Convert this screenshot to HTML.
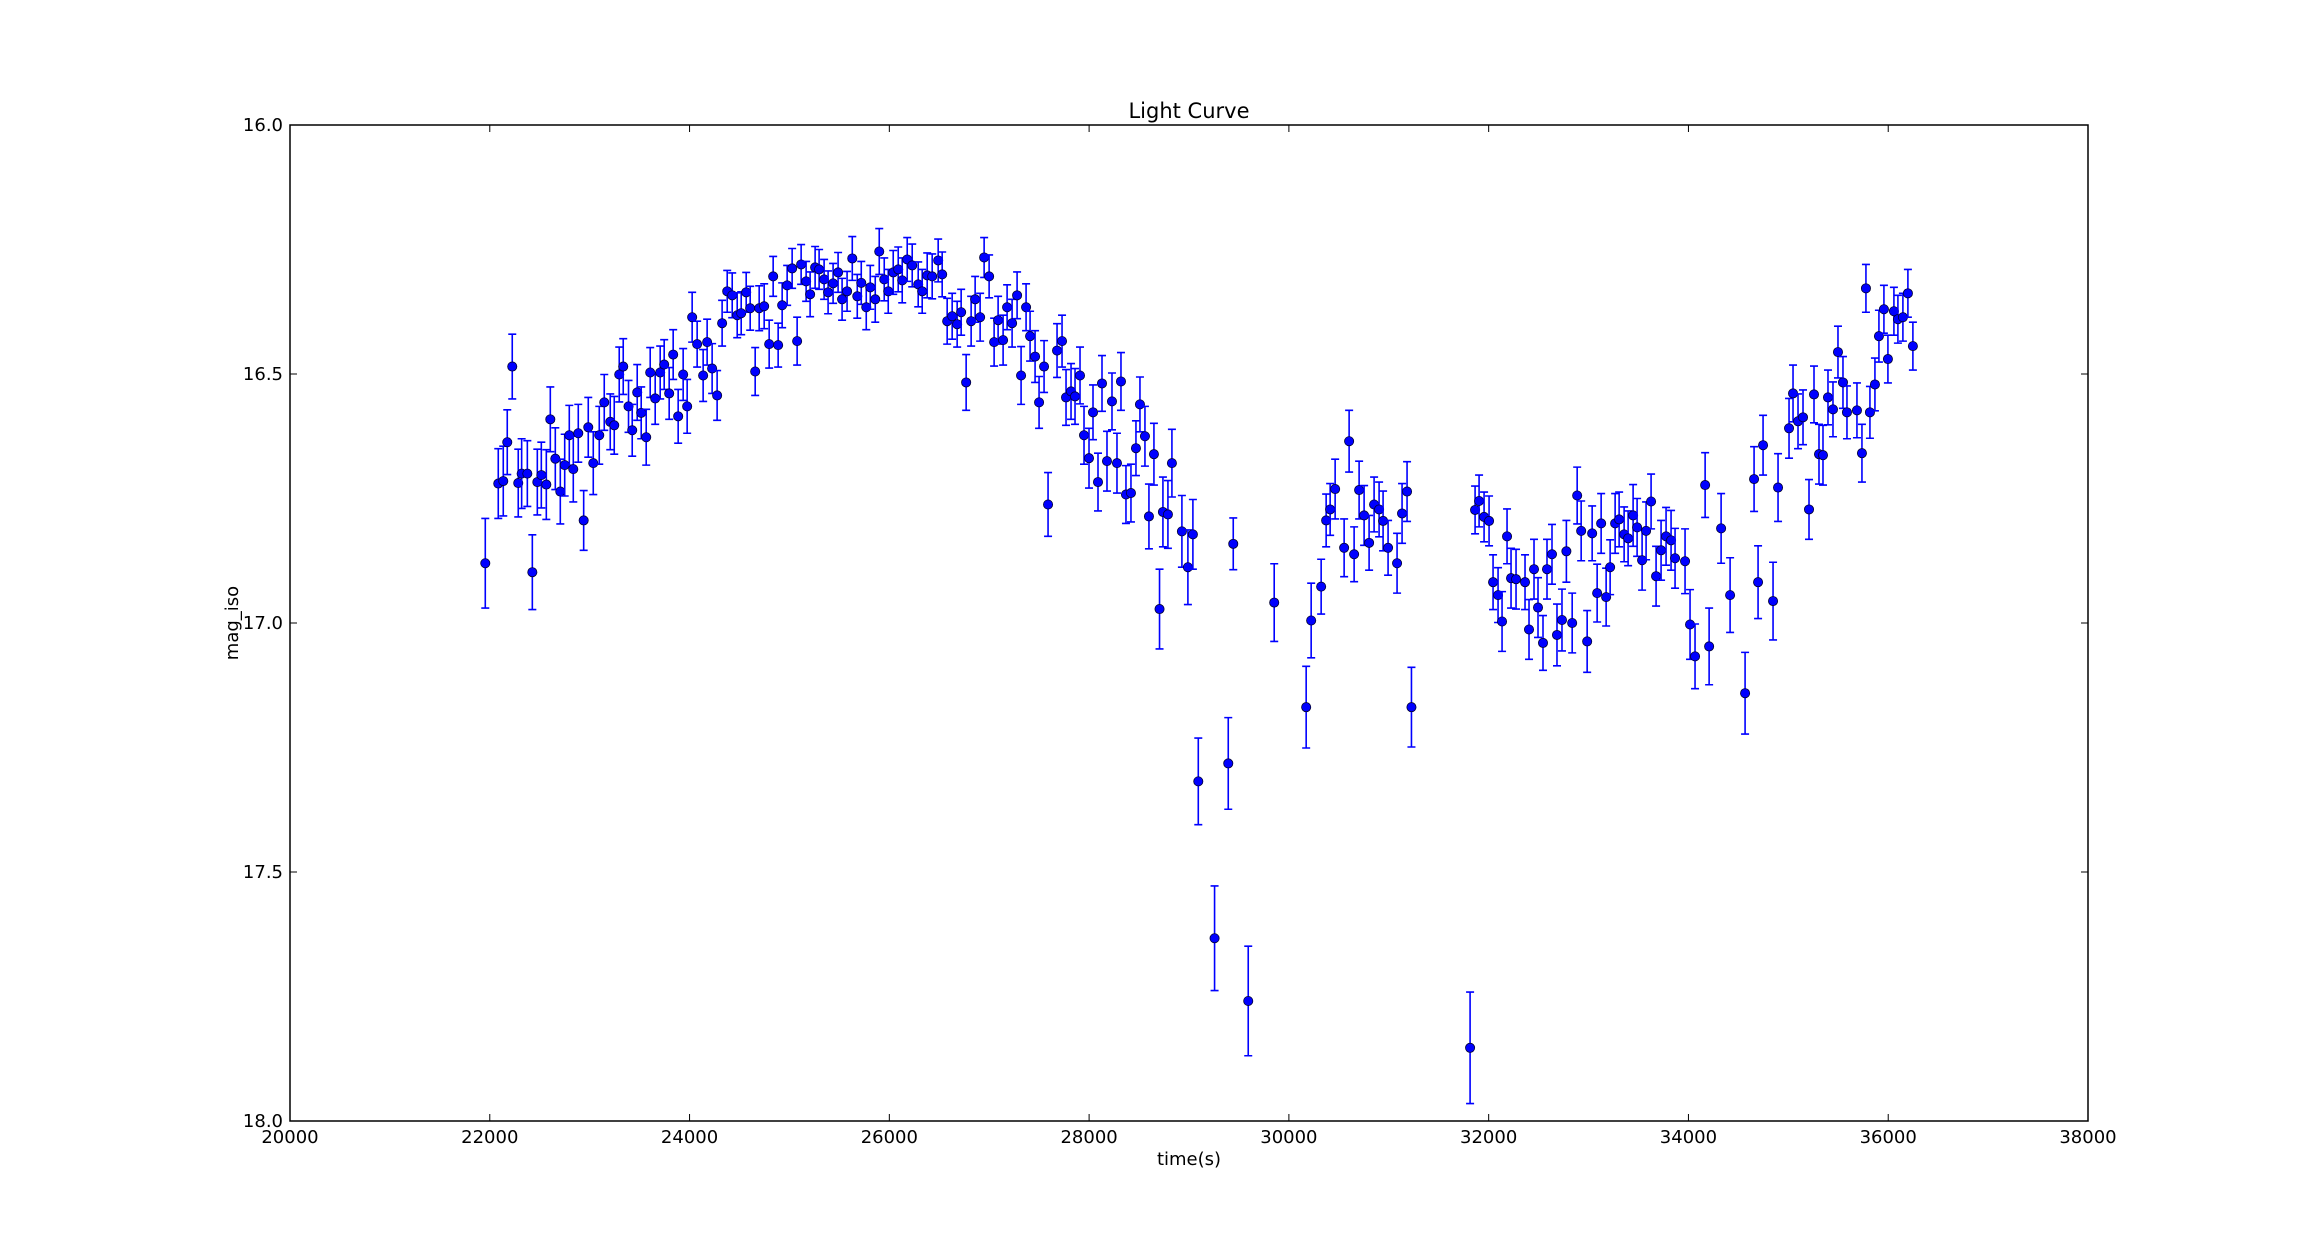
<!DOCTYPE html>
<html><head><meta charset="utf-8"><style>
html,body{margin:0;padding:0;background:#fff;}
svg{display:block;font-family:"DejaVu Sans","Liberation Sans",sans-serif;}
</style></head><body>
<svg id="chart" width="2318" height="1245" viewBox="0 0 2318 1245" xmlns="http://www.w3.org/2000/svg">
<rect x="0" y="0" width="2318" height="1245" fill="#fff"/>
<text x="1189" y="118" font-size="21" text-anchor="middle">Light Curve</text>
<text x="1189" y="1165" font-size="18" text-anchor="middle">time(s)</text>
<text x="238" y="623" font-size="18" text-anchor="middle" transform="rotate(-90 238 623)">mag_iso</text>
<g id="marks"></g>
<g id="axes"></g>
</svg>
<script>
const xTicks = [20000,22000,24000,26000,28000,30000,32000,34000,36000,38000];
const yTicks = [16.0,16.5,17.0,17.5,18.0];
const yTickLabels = ["16.0","16.5","17.0","17.5","18.0"];
const times = [21955,22085,22135,22175,22225,22285,22319,22376,22426,22476,22516,22566,22606,22656,22706,22750,22796,22836,22886,22940,22986,23036,23096,23146,23206,23246,23296,23336,23389,23426,23476,23516,23566,23606,23656,23706,23746,23796,23836,23886,23936,23976,24026,24076,24136,24176,24226,24276,24326,24377,24427,24477,24517,24567,24607,24657,24697,24747,24797,24837,24887,24927,24977,25027,25077,25117,25167,25207,25257,25297,25347,25387,25437,25487,25527,25577,
25629,25679,25719,25769,25809,25859,25899,25949,25989,26039,26089,26129,26179,26229,26289,26329,26379,26429,26489,26529,26579,26629,26679,26719,26769,26819,26859,26909,26949,26999,27049,27089,27139,27179,27229,27279,27319,27369,27409,27459,27499,27549,27589,27679,27729,27769,27819,27859,27909,27949,27999,28039,28089,28129,28179,28229,28279,28319,28369,28419,28469,28509,28559,28599,28649,28705,28739,28789,28829,28929,28989,29039,
29093,29256,29393,29443,29593,29853,30173,30223,30323,30373,30413,30463,30553,30603,30653,30703,30753,30803,30853,30903,30943,30993,31083,31133,31183,31227,31814,31864,31904,31954,32004,32044,32094,32134,32184,32224,32274,32364,32404,32454,32494,32544,32584,32634,32684,32734,32778,
32836,32886,32926,32986,33036,33086,33126,33176,33216,33266,33306,33356,33396,33446,33486,33536,33576,33626,33676,33726,33776,33826,33866,33966,34016,34066,34167,34207,34327,34417,34567,34657,34697,34747,34847,34897,35007,35047,35097,35147,35207,35257,35307,35347,35397,35447,35497,35547,35587,35687,35737,35777,35817,35867,35907,35957,35997,36057,36097,36147,36197,36247];
const mags = [16.880,16.720,16.715,16.637,16.485,16.719,16.700,16.700,16.898,16.717,16.703,16.722,16.591,16.670,16.736,16.683,16.623,16.691,16.619,16.794,16.607,16.679,16.623,16.557,16.596,16.603,16.501,16.485,16.565,16.613,16.537,16.578,16.627,16.497,16.549,16.497,16.481,16.539,16.461,16.585,16.501,16.565,16.386,16.440,16.503,16.436,16.489,16.543,16.398,16.334,16.342,16.382,16.378,16.336,16.368,16.495,16.368,16.364,16.440,16.304,16.442,16.362,16.322,16.288,16.434,16.280,16.314,16.340,16.286,16.290,16.310,16.336,16.318,16.296,16.350,16.334,
16.268,16.344,16.317,16.366,16.326,16.350,16.254,16.310,16.334,16.296,16.290,16.312,16.270,16.282,16.320,16.334,16.302,16.304,16.272,16.300,16.394,16.384,16.400,16.376,16.517,16.394,16.350,16.386,16.266,16.304,16.436,16.392,16.432,16.366,16.398,16.342,16.503,16.366,16.424,16.465,16.557,16.485,16.762,16.453,16.434,16.547,16.535,16.545,16.503,16.623,16.669,16.577,16.717,16.519,16.675,16.555,16.679,16.515,16.742,16.739,16.649,16.561,16.625,16.786,16.661,16.972,16.777,16.782,16.679,16.816,16.888,16.822,
17.318,17.633,17.282,16.841,17.759,16.959,17.169,16.995,16.927,16.794,16.772,16.731,16.849,16.635,16.862,16.733,16.784,16.839,16.762,16.772,16.795,16.849,16.880,16.780,16.736,17.169,17.853,16.773,16.755,16.787,16.795,16.918,16.944,16.997,16.826,16.910,16.912,16.918,17.013,16.892,16.969,17.040,16.892,16.862,17.024,16.994,16.856,
17.000,16.744,16.815,17.037,16.820,16.940,16.800,16.948,16.888,16.800,16.792,16.822,16.830,16.784,16.808,16.874,16.815,16.756,16.906,16.854,16.826,16.834,16.870,16.876,17.003,17.067,16.723,17.047,16.810,16.944,17.141,16.711,16.918,16.643,16.956,16.728,16.609,16.539,16.595,16.587,16.772,16.541,16.661,16.663,16.547,16.571,16.456,16.517,16.577,16.573,16.659,16.328,16.577,16.521,16.424,16.370,16.470,16.374,16.390,16.386,16.338,16.444];
const errs = [0.090,0.070,0.070,0.065,0.065,0.068,0.070,0.066,0.075,0.066,0.066,0.070,0.065,0.062,0.065,0.062,0.060,0.066,0.058,0.060,0.060,0.063,0.058,0.056,0.056,0.058,0.055,0.056,0.052,0.052,0.056,0.052,0.056,0.050,0.052,0.053,0.050,0.052,0.050,0.054,0.052,0.054,0.050,0.046,0.052,0.046,0.050,0.050,0.046,0.042,0.045,0.045,0.043,0.040,0.044,0.048,0.045,0.045,0.048,0.040,0.044,0.045,0.040,0.040,0.048,0.040,0.040,0.045,0.042,0.040,0.040,0.043,0.040,0.040,0.042,0.040,
0.044,0.044,0.043,0.045,0.044,0.046,0.046,0.043,0.044,0.044,0.045,0.045,0.044,0.043,0.045,0.044,0.045,0.045,0.043,0.045,0.046,0.046,0.046,0.046,0.056,0.050,0.046,0.048,0.040,0.043,0.048,0.048,0.050,0.045,0.048,0.047,0.058,0.047,0.050,0.052,0.052,0.052,0.064,0.054,0.052,0.056,0.056,0.056,0.057,0.058,0.060,0.055,0.058,0.056,0.060,0.057,0.060,0.058,0.058,0.058,0.055,0.055,0.060,0.065,0.062,0.080,0.070,0.068,0.068,0.072,0.075,0.070,
0.087,0.105,0.092,0.052,0.110,0.078,0.082,0.075,0.055,0.053,0.052,0.060,0.058,0.062,0.055,0.058,0.060,0.055,0.055,0.055,0.060,0.055,0.060,0.060,0.060,0.080,0.112,0.048,0.052,0.050,0.050,0.055,0.055,0.060,0.055,0.060,0.060,0.055,0.060,0.060,0.060,0.055,0.060,0.060,0.062,0.062,0.062,
0.060,0.057,0.060,0.062,0.055,0.058,0.060,0.058,0.055,0.060,0.055,0.055,0.055,0.062,0.058,0.060,0.058,0.055,0.060,0.060,0.058,0.060,0.060,0.065,0.070,0.065,0.065,0.077,0.070,0.075,0.082,0.065,0.073,0.060,0.078,0.068,0.060,0.057,0.055,0.055,0.060,0.057,0.060,0.060,0.055,0.055,0.052,0.052,0.053,0.055,0.058,0.048,0.052,0.053,0.052,0.048,0.048,0.048,0.048,0.048,0.048,0.048];

const L=290,R=2088,T=125,B=1121;
const X0=20000,X1=38000,Y0=16,Y1=18;
function xs(v){return L+(v-X0)/(X1-X0)*(R-L);}
function ys(v){return T+(v-Y0)/(Y1-Y0)*(B-T);}
const NS="http://www.w3.org/2000/svg";
const marks=document.getElementById('marks');
const axes=document.getElementById('axes');
function mk(tag,attrs,parent){const e=document.createElementNS(NS,tag);for(const k in attrs)e.setAttribute(k,attrs[k]);parent.appendChild(e);return e;}

for(let i=0;i<times.length;i++){
  const x=xs(times[i]),y=ys(mags[i]),yt=ys(mags[i]-errs[i]),yb=ys(mags[i]+errs[i]);
  const g=mk('g',{},marks);
  
  
  const bar=mk('path',{d:`M${x} ${yt}V${yb}M${x-4} ${yt}H${x+4}M${x-4} ${yb}H${x+4}`,stroke:'#0000ff','stroke-width':1.6,fill:'none'},g);
  
  
  const c=mk('circle',{cx:x,cy:y,r:4.6,fill:'#0000ff',stroke:'#000033','stroke-width':0.8},g);
  
  
}

const frame=mk('rect',{x:L,y:T,width:R-L,height:B-T,fill:'none',stroke:'#000','stroke-width':1.5},axes);


xTicks.forEach(v=>{
  const x=xs(v);
  const t=mk('path',{d:`M${x} ${B}V${B-7}M${x} ${T}V${T+7}`,stroke:'#000','stroke-width':1},axes);
  
  
  const lb=mk('text',{x:x,y:B+22,'font-size':18,'text-anchor':'middle'},axes);
  lb.textContent=String(v);
  
  
});
yTicks.forEach((v,i)=>{
  const y=ys(v);
  const t=mk('path',{d:`M${L} ${y}H${L+7}M${R} ${y}H${R-7}`,stroke:'#000','stroke-width':1},axes);
  
  
  const lb=mk('text',{x:L-7,y:y+6,'font-size':18,'text-anchor':'end'},axes);
  lb.textContent=yTickLabels[i];
  
  
});
</script>
</body></html>
